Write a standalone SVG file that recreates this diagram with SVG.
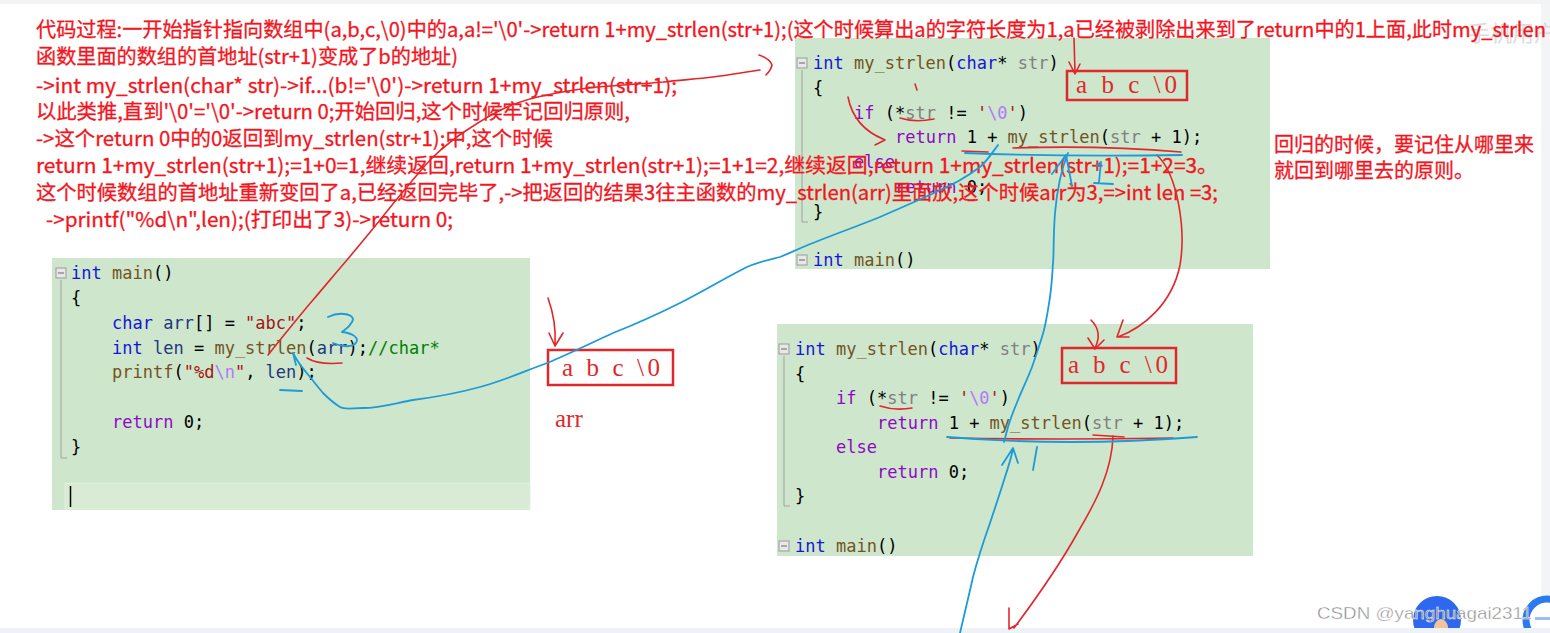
<svg xmlns="http://www.w3.org/2000/svg" width="1550" height="633" viewBox="0 0 1550 633">
<style>
.bg{fill:#ffffff}
.green{fill:#cde6cc}
.code{font-family:"DejaVu Sans Mono","Liberation Mono",monospace;font-size:17px;fill:#000;white-space:pre}
.kw{fill:#1515d8}
.fn{fill:#74531f}
.pm{fill:#808080}
.ct{fill:#8f08c4}
.st{fill:#a31515}
.es{fill:#b776fb}
.vr{fill:#1f377f}
.cm{fill:#008000}
.guide{fill:none;stroke:#a0a0a0;stroke-width:1}
.fold{fill:#e8e8e8;stroke:#9a9a9a;stroke-width:1}
.note{font-family:"Noto Sans CJK SC","Open Sans",sans-serif;font-size:20px;fill:#f2161e;stroke:#f2161e;stroke-width:0.3;white-space:pre}
.serif{font-family:"Liberation Serif","DejaVu Serif",serif;font-size:25px;fill:#e0282c;white-space:pre}
.rbox{fill:none;stroke:#e0282c;stroke-width:2.5}
.red{fill:none;stroke:#e3262b;stroke-width:1.6;stroke-linecap:round;stroke-linejoin:round}
.blue{fill:none;stroke:#1c9bd8;stroke-width:1.8;stroke-linecap:round;stroke-linejoin:round}
</style>
<rect class="bg" x="0" y="0" width="1550" height="633"/>
<rect x="0" y="0" width="1550" height="4" fill="#f3f3f3"/>
<rect x="1541" y="4" width="9" height="629" fill="#f3f4f5"/>

<!-- Code box A -->
<g id="codeA">
<rect class="green" x="795" y="38" width="475" height="231"/>
<rect class="fold" x="797" y="58" width="10" height="10"/>
<line x1="799" y1="63" x2="805" y2="63" stroke="#666" stroke-width="1"/>
<polyline class="guide" points="802,70 802,222 808,222"/>
<text class="code" x="813" y="69"><tspan class="kw">int</tspan> <tspan class="fn">my_strlen</tspan>(<tspan class="kw">char</tspan>* <tspan class="pm">str</tspan>)</text>
<text class="code" x="813" y="94">{</text>
<text class="code" x="854" y="119"><tspan class="ct">if</tspan> (*<tspan class="pm">str</tspan> != <tspan class="st">'</tspan><tspan class="es">\0</tspan><tspan class="st">'</tspan>)</text>
<text class="code" x="895" y="143"><tspan class="ct">return</tspan> 1 + <tspan class="fn">my_strlen</tspan>(<tspan class="pm">str</tspan> + 1);</text>
<text class="code" x="854" y="168"><tspan class="ct">else</tspan></text>
<text class="code" x="895" y="193"><tspan class="ct">return</tspan> 0;</text>
<text class="code" x="813" y="218">}</text>
<rect class="fold" x="797" y="255" width="10" height="10"/>
<line x1="799" y1="260" x2="805" y2="260" stroke="#666" stroke-width="1"/>
<text class="code" x="813" y="266"><tspan class="kw">int</tspan> <tspan class="fn">main</tspan>()</text>
</g>

<!-- Code box B (main) -->
<g id="codeB">
<rect class="green" x="52" y="258" width="478" height="252"/>
<rect x="65" y="483" width="465" height="26" fill="#d9ebd5" stroke="#e3eee0" stroke-width="1"/>
<rect class="fold" x="56" y="268" width="10" height="10"/>
<line x1="58" y1="273" x2="64" y2="273" stroke="#666" stroke-width="1"/>
<polyline class="guide" points="61,280 61,458 67,458"/>
<text class="code" x="71" y="279"><tspan class="kw">int</tspan> <tspan class="fn">main</tspan>()</text>
<text class="code" x="71" y="304">{</text>
<text class="code" x="112" y="329"><tspan class="kw">char</tspan> <tspan class="vr">arr</tspan>[] = <tspan class="st">"abc"</tspan>;</text>
<text class="code" x="112" y="354"><tspan class="kw">int</tspan> <tspan class="vr">len</tspan> = <tspan class="fn">my_strlen</tspan>(<tspan class="vr">arr</tspan>);<tspan class="cm">//char*</tspan></text>
<text class="code" x="112" y="378"><tspan class="fn">printf</tspan>(<tspan class="st">"%d</tspan><tspan class="es">\n</tspan><tspan class="st">"</tspan>, <tspan class="vr">len</tspan>);</text>
<text class="code" x="112" y="428"><tspan class="ct">return</tspan> 0;</text>
<text class="code" x="71" y="453">}</text>
<line x1="70.5" y1="486" x2="70.5" y2="507" stroke="#000" stroke-width="1.5"/>
</g>

<!-- Code box C -->
<g id="codeC">
<rect class="green" x="777" y="324" width="476" height="232"/>
<rect class="fold" x="779" y="344" width="10" height="10"/>
<line x1="781" y1="349" x2="787" y2="349" stroke="#666" stroke-width="1"/>
<polyline class="guide" points="784,356 784,506 790,506"/>
<text class="code" x="795" y="355"><tspan class="kw">int</tspan> <tspan class="fn">my_strlen</tspan>(<tspan class="kw">char</tspan>* <tspan class="pm">str</tspan>)</text>
<text class="code" x="795" y="380">{</text>
<text class="code" x="836" y="404"><tspan class="ct">if</tspan> (*<tspan class="pm">str</tspan> != <tspan class="st">'</tspan><tspan class="es">\0</tspan><tspan class="st">'</tspan>)</text>
<text class="code" x="877" y="429"><tspan class="ct">return</tspan> 1 + <tspan class="fn">my_strlen</tspan>(<tspan class="pm">str</tspan> + 1);</text>
<text class="code" x="836" y="453"><tspan class="ct">else</tspan></text>
<text class="code" x="877" y="478"><tspan class="ct">return</tspan> 0;</text>
<text class="code" x="795" y="502">}</text>
<rect class="fold" x="779" y="541" width="10" height="10"/>
<line x1="781" y1="546" x2="787" y2="546" stroke="#666" stroke-width="1"/>
<text class="code" x="795" y="552"><tspan class="kw">int</tspan> <tspan class="fn">main</tspan>()</text>
</g>

<!-- Array boxes -->
<g id="arrayA">
<rect class="rbox" x="1067" y="71" width="120" height="29"/>
<text class="serif" x="1076" y="93" textLength="101" lengthAdjust="spacing">a b c \0</text>
</g>
<g id="arrayMain">
<rect class="rbox" x="548" y="350" width="125" height="35"/>
<text class="serif" x="562" y="376" textLength="98" lengthAdjust="spacing">a b c \0</text>
<text class="serif" x="555" y="427">arr</text>
</g>
<g id="arrayC">
<rect class="rbox" x="1062" y="348" width="114" height="35"/>
<text class="serif" x="1068" y="373" textLength="100" lengthAdjust="spacing">a b c \0</text>
</g>

<!-- watermarks / page chrome -->
<g id="watermarks">
<text x="1468" y="41" font-family="Noto Sans CJK SC,sans-serif" font-size="22" fill="#dcdcdc">手机用户</text>
<circle cx="1437" cy="620" r="24" fill="#2d68ee"/>
<ellipse cx="1441" cy="628" rx="7" ry="9" fill="#f3c49a"/>
<circle cx="1547" cy="620" r="21" fill="#ffffff" stroke="#2a7bf0" stroke-width="7"/>
<rect x="1535" y="617" width="15" height="3" fill="#9cc0f5"/>
<rect x="0" y="628" width="1550" height="5" fill="#eef1f5"/>
<text x="1317" y="619" font-family="Liberation Sans,Arial,sans-serif" font-size="17" fill="#8c8c8c" stroke="#ffffff" stroke-width="0.4" textLength="215" lengthAdjust="spacingAndGlyphs">CSDN @yanghuagai2311</text>
</g>

<!-- Explanation text -->
<g id="explanation">
<text class="note" x="36" y="37" textLength="1510" lengthAdjust="spacingAndGlyphs">代码过程:一开始指针指向数组中(a,b,c,\0)中的a,a!='\0'-&gt;return 1+my_strlen(str+1);(这个时候算出a的字符长度为1,a已经被剥除出来到了return中的1上面,此时my_strlen</text>
<text class="note" x="36" y="64" textLength="422" lengthAdjust="spacingAndGlyphs">函数里面的数组的首地址(str+1)变成了b的地址)</text>
<text class="note" x="36" y="93" textLength="641" lengthAdjust="spacingAndGlyphs">-&gt;int my_strlen(char* str)-&gt;if...(b!='\0')-&gt;return 1+my_strlen(str+1);</text>
<text class="note" x="36" y="119" textLength="594" lengthAdjust="spacingAndGlyphs">以此类推,直到'\0'='\0'-&gt;return 0;开始回归,这个时候牢记回归原则,</text>
<text class="note" x="36" y="146" textLength="517" lengthAdjust="spacingAndGlyphs">-&gt;这个return 0中的0返回到my_strlen(str+1);中,这个时候</text>
<text class="note" x="36" y="173" textLength="1182" lengthAdjust="spacingAndGlyphs">return 1+my_strlen(str+1);=1+0=1,继续返回,return 1+my_strlen(str+1);=1+1=2,继续返回,return 1+my_strlen(str+1);=1+2=3。</text>
<text class="note" x="36" y="200" textLength="1182" lengthAdjust="spacingAndGlyphs">这个时候数组的首地址重新变回了a,已经返回完毕了,-&gt;把返回的结果3往主函数的my_strlen(arr)里面放,这个时候arr为3,=&gt;int len =3;</text>
<text class="note" x="46" y="227" textLength="407" lengthAdjust="spacingAndGlyphs">-&gt;printf("%d\n",len);(打印出了3)-&gt;return 0;</text>
</g>
<g id="principle">
<text class="note" x="1274" y="152" stroke-width="0">回归的时候，要记住从哪里来</text>
<text class="note" x="1274" y="178" stroke-width="0">就回到哪里去的原则。</text>
</g>

<!-- Hand-drawn connectors -->
<g id="connectors">
<!-- red -->
<path class="red" d="M268,355 L280,340 C295,322 305,309 313,300 C330,280 340,268 347,260 C362,242 372,230 380,220 C392,205 400,195 407,187 C418,174 425,165 433,157 C447,144 456,137 467,130 C482,120 494,113 507,107 C522,101 534,97 547,95 C565,91 580,89 597,87 C620,85 640,84 663,82 C680,80 697,79 713,77 C730,75 745,72 760,70"/>
<path class="red" d="M759,55 Q770,59 772,65 Q771,70 766,75"/>
<path class="red" d="M1074,38 L1075,73 M1069,62 L1075,74 L1080,64"/>
<path class="red" d="M915,84 L917,90"/>
<path class="red" d="M848,97 C852,118 865,132 885,140 M873,134 L885,140 L875,145"/>
<path class="red" d="M900,118 Q915,123 934,119"/>
<path class="red" d="M1013,148 Q1100,145 1181,152 M962,151 L988,152"/>
<path class="red" d="M1157,155 C1178,175 1186,230 1180,265 C1172,305 1142,328 1118,337 M1123,320 L1117,337 L1129,337"/>
<path class="red" d="M1091,320 Q1103,332 1095,348 M1088,338 L1095,349 L1104,340"/>
<path class="red" d="M880,406 Q895,411 912,408"/>
<path class="red" d="M950,438 Q1060,440 1173,438"/>
<path class="red" d="M1093,435 L1124,437" stroke-width="2.4"/>
<path class="red" d="M1113,436 C1112,470 1097,500 1078,532 C1058,568 1032,604 1014,628 M1009,608 L1009,629 L1018,624"/>
<path class="red" d="M548,298 C553,312 556,330 555,345 M549,333 L555,346 L563,333"/>
<path class="red" d="M307,358 Q318,365 342,363"/>
<!-- blue -->
<path class="blue" d="M998,145 C990,156 986,162 980,167 C965,178 955,184 940,190 C920,200 900,208 880,217 C858,226 835,234 813,243 C800,248 790,253 780,257 C768,260 758,262 747,267 C725,278 702,292 680,303 C658,314 636,324 613,333 C591,343 569,354 547,363 C525,371 503,381 480,387 C458,393 436,397 413,400 C396,403 380,408 363,408 C352,408 345,410 340,407 C332,402 328,398 323,393 C318,387 314,382 310,377 C305,371 300,365 297,360 L293,353 L296,365"/>
<path class="blue" d="M328,317 C340,311 357,314 352,322 C349,328 344,330 342,332 C352,333 361,338 355,344 C350,348 340,346 333,343"/>
<path class="blue" d="M280,390 L302,391"/>
<path class="blue" d="M965,153 Q1070,157 1182,155"/>
<path class="blue" d="M1068,153 C1061,170 1057,190 1055,213 C1053,240 1054,255 1053,263 C1052,280 1051,290 1050,297 C1048,310 1046,325 1042,337 C1038,350 1035,358 1032,367 C1027,380 1022,390 1018,400 C1013,412 1010,420 1008,427 L1004,442"/>
<path class="blue" d="M1052,174 L1066,155 L1072,186"/>
<path class="blue" d="M1097,166 L1101,162 L1099,182 M1094,183 L1113,184"/>
<path class="blue" d="M960,633 C965,612 969,595 973,577 C978,558 984,540 990,523 C996,505 1001,490 1005,477 C1008,468 1011,458 1013,449 M1002,465 L1013,448 L1018,463"/>
<path class="blue" d="M1037,447 L1033,470"/>
<path class="blue" d="M947,437 Q1070,447 1197,437"/>
</g>
</svg>
